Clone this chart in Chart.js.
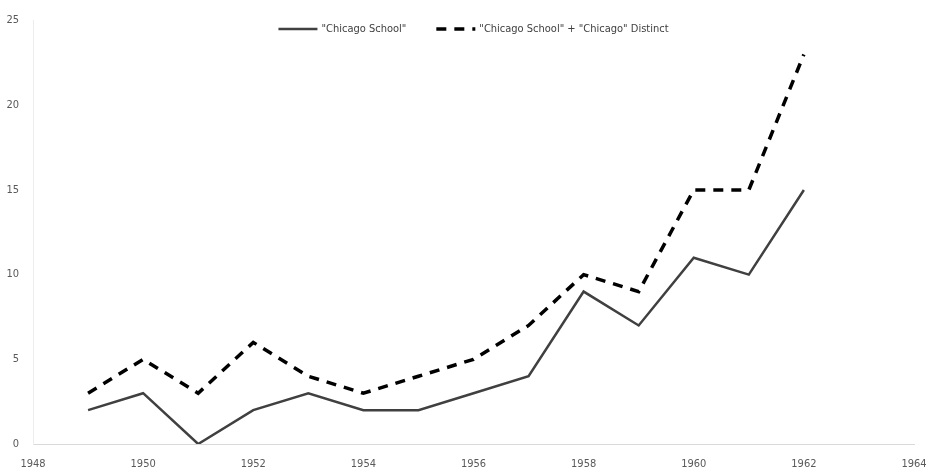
<!DOCTYPE html>
<html>
<head>
<meta charset="utf-8">
<script src="https://cdn.jsdelivr.net/npm/chart.js@4"></script>
<style>
  html, body { margin: 0; padding: 0; background: #fff; }
  #wrap { width: 933px; height: 475px; }
</style>
</head>
<body>
<div id="wrap"><canvas id="myChart"></canvas></div>
<script>
const years = [1949, 1950, 1951, 1952, 1953, 1954, 1955, 1956, 1957, 1958, 1959, 1960, 1961, 1962];
const chicagoSchool = [2, 3, 0, 2, 3, 2, 2, 3, 4, 9, 7, 11, 10, 15];
const withChicagoDistinct = [3, 5, 3, 6, 4, 3, 4, 5, 7, 10, 9, 15, 15, 23];
const seriesLabels = ['"Chicago School"', '"Chicago School" + "Chicago" Distinct'];
const xTicks = [1948, 1950, 1952, 1954, 1956, 1958, 1960, 1962, 1964];
const yTicks = [0, 5, 10, 15, 20, 25];

const FONT = '"Liberation Sans Narrow", "DejaVu Sans Condensed", sans-serif';
const toPoints = (vals) => vals.map((v, i) => ({ x: years[i], y: v }));

Chart.defaults.font.family = FONT;
Chart.defaults.font.size = 11;
Chart.defaults.color = '#595959';

// legend drawn across the top of the plot, like the original
const topLegend = {
  id: 'topLegend',
  afterDraw(chart) {
    const c = chart.ctx;
    const area = chart.chartArea;
    const sample = 39;
    const textGap = 4;
    const itemGap = 30;
    c.save();
    c.font = '11px ' + FONT;
    const widths = chart.data.datasets.map((ds) => sample + textGap + c.measureText(ds.label).width);
    const total = widths.reduce((a, b) => a + b, 0) + itemGap * (widths.length - 1);
    let x = (area.left + area.right) / 2 - total / 2;
    const y = 29;
    chart.data.datasets.forEach((ds, i) => {
      c.beginPath();
      c.setLineDash(ds.borderDash || []);
      c.lineWidth = ds.borderWidth;
      c.strokeStyle = ds.borderColor;
      c.moveTo(x, y);
      c.lineTo(x + sample, y);
      c.stroke();
      c.setLineDash([]);
      c.fillStyle = '#404040';
      c.textBaseline = 'middle';
      c.fillText(ds.label, x + sample + textGap, y);
      x += widths[i] + itemGap;
    });
    c.restore();
  },
};

const ctx = document.getElementById('myChart');

const myChart = new Chart(ctx, {
  type: 'line',
  data: {
    datasets: [
      {
        label: seriesLabels[0],
        data: toPoints(chicagoSchool),
        borderColor: '#404040',
        borderWidth: 2.5,
        pointRadius: 0,
        tension: 0,
      },
      {
        label: seriesLabels[1],
        data: toPoints(withChicagoDistinct),
        borderColor: '#000',
        borderWidth: 3.5,
        borderDash: [10, 8],
        pointRadius: 0,
        tension: 0,
      },
    ],
  },
  options: {
    responsive: true,
    maintainAspectRatio: false,
    animation: false,
    layout: { padding: { top: 18, right: 0, left: 6, bottom: 0 } },
    scales: {
      x: {
        type: 'linear',
        min: xTicks[0],
        max: xTicks[xTicks.length - 1],
        afterBuildTicks: (axis) => { axis.ticks = xTicks.map((v) => ({ value: v })); },
        afterFit: (axis) => { axis.height = 31; axis.paddingRight = 19; },
        ticks: { callback: (v) => String(v), maxRotation: 0, padding: 14 },
        grid: { color: 'transparent', drawTicks: false },
        border: { color: '#d9d9d9', width: 1 },
      },
      y: {
        min: yTicks[0],
        max: yTicks[yTicks.length - 1],
        afterBuildTicks: (axis) => { axis.ticks = yTicks.map((v) => ({ value: v })); },
        afterFit: (axis) => { axis.width = 27; },
        ticks: { padding: 14 },
        grid: { color: 'transparent', drawTicks: false },
        border: { color: '#ededed', width: 1 },
      },
    },
    plugins: {
      legend: { display: false },
      tooltip: { enabled: false },
    },
  },
  plugins: [topLegend],
});
</script>
</body>
</html>
